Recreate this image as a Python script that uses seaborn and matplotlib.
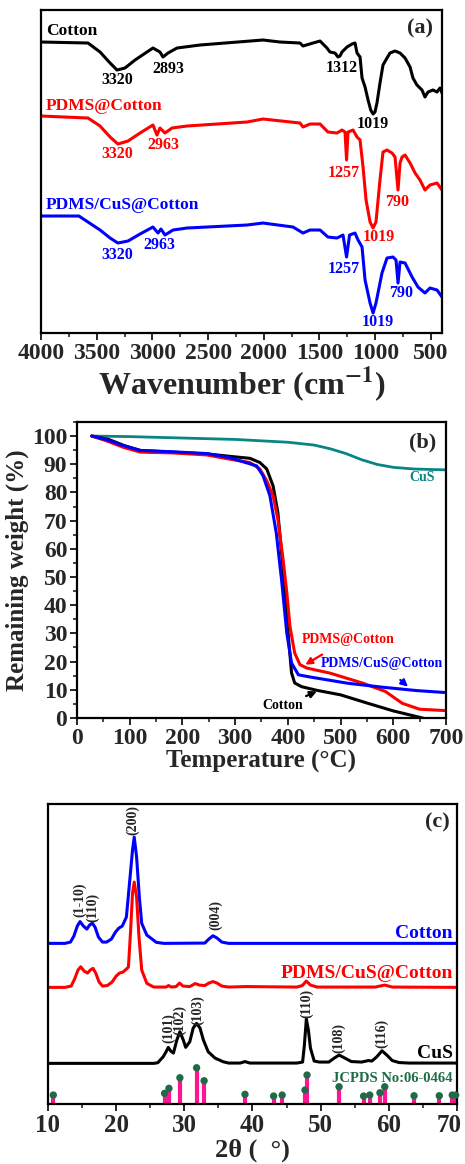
import matplotlib
matplotlib.use("Agg")
import matplotlib.pyplot as plt
from matplotlib.ticker import MultipleLocator
from matplotlib.transforms import ScaledTranslation
import seaborn as sns

sns.set_theme(style="ticks")
plt.rcParams["font.family"] = ["Liberation Serif", "DejaVu Serif"]
plt.rcParams["font.weight"] = "bold"
plt.rcParams["mathtext.fontset"] = "stix"
plt.rcParams["mathtext.default"] = "bf"
plt.rcParams["axes.linewidth"] = 1.6
plt.rcParams["xtick.direction"] = "out"
plt.rcParams["ytick.direction"] = "out"

# ---------------- FTIR spectra (transmittance, offset, a.u.) ----------------
wn_cotton = [4000, 3578, 3470, 3380, 3318, 3246, 3156, 2995, 2932, 2905, 2860, 2779,
             2573, 2007, 1855, 1675, 1648, 1558, 1495, 1433, 1406, 1361, 1334, 1316,
             1298, 1253, 1208, 1181, 1163, 1136, 1118, 1091, 1064, 1040, 1019, 1002,
             984, 957, 930, 894, 867, 822, 777, 732, 687, 661, 625, 580, 553, 526,
             481, 445, 418, 400]
t_cotton = [291, 290, 281, 270, 263, 265, 273, 285, 281, 276, 280, 285,
            288, 293, 291, 290, 287, 290, 292, 285, 281, 280, 276, 277,
            281, 286, 289, 290, 280, 276, 255, 246, 233, 223, 219, 221,
            230, 250, 268, 275, 280, 282, 280, 275, 266, 255, 248, 243, 236, 241,
            243, 241, 245, 240]

wn_pdms = [4000, 3578, 3470, 3380, 3310, 3219, 3111, 2995, 2959, 2932, 2887, 2824,
           2689, 2151, 2007, 1675, 1648, 1585, 1495, 1424, 1343, 1298, 1271, 1257,
           1244, 1199, 1163, 1136, 1109, 1082, 1046, 1019, 993, 957, 930, 894, 849,
           822, 795, 777, 759, 732, 687, 642, 598, 553, 508, 445, 400]
t_pdms = [217, 215, 207, 196, 189, 192, 200, 208, 198, 205, 200, 205,
          207, 211, 214, 210, 206, 209, 209, 201, 200, 203, 201, 173,
          201, 203, 196, 193, 166, 133, 111, 105, 111, 153, 181, 183, 180,
          176, 143, 170, 176, 178, 170, 160, 153, 143, 148, 150, 143]

wn_cus = [4000, 3660, 3470, 3380, 3310, 3219, 3111, 2995, 2950, 2923, 2887, 2815,
          2689, 2151, 2007, 1738, 1648, 1585, 1495, 1424, 1343, 1289, 1257, 1230,
          1181, 1154, 1118, 1091, 1046, 1019, 993, 939, 894, 840, 813, 795, 777,
          732, 669, 616, 553, 508, 445, 400]
t_cus = [117, 117, 103, 95, 90, 92, 99, 106, 100, 104, 98, 103,
         105, 108, 110, 106, 100, 103, 103, 96, 95, 98, 76, 98,
         100, 93, 86, 53, 30, 20, 30, 60, 75, 76, 73, 50, 71,
         70, 56, 46, 40, 45, 43, 36]

ftir_peaks = [  # (text, wavenumber, y, colour)
    ("3320", 3318, 253, "black"), ("2893", 2860, 264, "black"),
    ("1312", 1300, 265, "black"), ("1019", 1019, 209, "black"),
    ("3320", 3318, 179, "red"), ("2963", 2900, 188, "red"),
    ("1257", 1280, 160, "red"), ("1019", 970, 96, "red"), ("790", 800, 131, "red"),
    ("3320", 3318, 78, "blue"), ("2963", 2940, 88, "blue"),
    ("1257", 1280, 64, "blue"), ("1019", 980, 11, "blue"), ("790", 770, 40, "blue"),
]

# ---------------- TGA curves ----------------
temp_cotton = [28, 60, 90, 120, 180, 250, 290, 328, 347, 360, 372, 381, 391, 401,
               407, 413, 426, 455, 500, 550, 600, 655, 665]
w_cotton = [100, 98.8, 96.6, 94.9, 94.3, 93.6, 92.8, 92.1, 90.6, 88.3, 82.3, 73.0,
            52.7, 28.9, 16.0, 12.4, 11.1, 9.8, 8.2, 5.3, 2.5, 0.0, -0.6]

temp_pdms = [28, 56, 88, 120, 183, 246, 290, 328, 347, 360, 372, 381, 391, 398,
             404, 413, 423, 436, 480, 543, 585, 617, 650, 700]
w_pdms = [100, 98.3, 96.0, 94.3, 94.0, 93.3, 91.8, 90.6, 88.3, 84.1, 78.8, 70.5,
          56.2, 44.5, 32.5, 23.0, 18.9, 17.7, 15.9, 12.3, 9.4, 5.2, 3.1, 2.6]

temp_pcc = [28, 56, 88, 120, 183, 246, 290, 341, 353, 366, 378, 388, 398, 407,
            420, 443, 514, 580, 645, 700]
w_pcc = [100, 98.7, 96.6, 94.9, 94.4, 93.8, 92.3, 89.4, 85.9, 78.8, 65.7, 49.1,
         30.1, 19.5, 15.3, 14.5, 12.3, 10.9, 9.7, 9.0]

temp_cus = [28, 100, 200, 300, 400, 450, 480, 510, 540, 570, 600, 640, 700]
w_cus = [100, 99.8, 99.3, 98.8, 97.8, 96.8, 95.5, 93.8, 91.6, 89.9, 88.9, 88.3, 88.0]

# ---------------- XRD patterns (offset, a.u.) ----------------
tt_cotton = [10, 12.5, 13.3, 13.8, 14.3, 14.7, 15.2, 15.7, 16.1, 16.5, 16.9, 17.4,
             18.0, 18.6, 19.3, 19.9, 20.4, 20.9, 21.5, 22.0, 22.4, 22.65, 23.0,
             23.4, 23.75, 24.5, 25.9, 27.0, 33.0, 33.6, 34.2, 34.8, 35.5, 36.5, 70]
i_cotton = [160.7, 160.7, 162, 168, 178, 182.5, 178, 175, 179, 181, 177, 167,
            162, 162, 165, 172, 176, 178, 187, 224, 254, 267, 247,
            207, 180.7, 169, 161.7, 160.7, 161, 165, 168.3, 166, 162, 160.7, 160.7]

tt_pcc = [10, 12.5, 13.4, 13.9, 14.4, 14.8, 15.3, 15.8, 16.2, 16.6, 17.0, 17.5,
          18.0, 18.7, 19.4, 20.0, 20.5, 21.0, 21.5, 21.8, 22.1, 22.4, 22.65, 23.0,
          23.35, 23.75, 24.5, 25.5, 27.3, 27.7, 28.1, 28.8, 29.3, 29.8, 30.8, 31.6,
          32.2, 33.0, 33.6, 34.2, 34.8, 35.5, 36.5, 39.0, 46.5, 47.3, 47.9, 48.5,
          49.5, 58.0, 59.4, 60.5, 70]
i_pcc = [116.7, 116.7, 118, 125, 134, 137.3, 133, 131, 134, 135.7, 131, 122,
         118, 118.5, 122, 128, 131, 132, 135, 137, 171, 211, 222, 207,
         167, 134, 120.7, 117, 117, 118.5, 117, 117.5, 121, 118, 117.5, 120.5,
         119, 118.5, 121, 122.5, 121, 118, 117, 117.5, 117, 118.5, 123, 119,
         117, 117, 119, 117, 116.7]

tt_cus = [10, 25.5, 26.1, 26.9, 27.3, 27.65, 28.0, 28.4, 28.9, 29.35, 29.85, 30.2,
          30.8, 31.3, 31.8, 32.3, 32.8, 33.5, 34.5, 35.7, 36.5, 38.2, 38.9, 39.6,
          46.5, 47.35, 47.6, 47.9, 48.2, 48.5, 49.05, 49.8, 51.2, 52.0, 52.7, 53.4,
          54.5, 56.0, 57.0, 57.5, 58.2, 59.0, 59.7, 60.5, 61.5, 63, 70]
i_cus = [40.7, 40.7, 41.3, 47.3, 52, 56.7, 53, 51, 64, 72.3, 64, 56.7,
         62.3, 76, 80.7, 76, 64, 52.3, 46, 42.3, 41, 41, 42.5, 41,
         41, 42, 58, 85, 74, 56, 43, 42, 42, 46, 49, 46.5,
         42.5, 42, 43.5, 43, 47, 53.3, 49, 43.5, 41.5, 41, 41]

jcpds_pos = [10.78, 27.1, 27.74, 29.35, 31.8, 32.9, 38.9, 43.1, 44.35, 47.7, 48.0,
             52.7, 56.3, 57.2, 58.7, 59.4, 63.7, 67.4, 69.3, 69.8]
jcpds_int = [9, 10.7, 15.7, 26.3, 36.3, 23.3, 9.7, 8, 9, 14, 29,
             17.3, 8, 9, 11.3, 17.3, 8.3, 8.3, 9, 9]

xrd_peaks = [  # (text, 2theta, y)
    ("(1-10)", 14.6, 204), ("(110)", 16.6, 197), ("(200)", 22.4, 284),
    ("(004)", 34.6, 189), ("(101)", 27.65, 76), ("(102)", 29.35, 84),
    ("(103)", 31.9, 94), ("(110)", 48.0, 101), ("(108)", 52.7, 66),
    ("(116)", 59.0, 71),
]
xrd_ticks = [10, 20, 30, 40, 50, 60, 70]

fig = plt.figure(figsize=(4.65, 11.64), dpi=100)
fig.patch.set_facecolor("white")

# ===================== (a) FTIR =====================
ax1 = fig.add_axes([0.0882, 0.7139, 0.8624, 0.2775])
lw = 2.2
sns.lineplot(x=wn_cotton, y=t_cotton, color="black", lw=lw, ax=ax1)
sns.lineplot(x=wn_pdms, y=t_pdms, color="#FF0000", lw=lw, ax=ax1)
sns.lineplot(x=wn_cus, y=t_cus, color="#0000FF", lw=lw, ax=ax1)
ax1.set_xlim(4000, 400)
ax1.set_ylim(0, 323)
ax1.xaxis.set_major_locator(MultipleLocator(500))
ax1.xaxis.set_minor_locator(MultipleLocator(250))
ax1.set_yticks([])
ax1.tick_params(axis="x", which="major", length=5, width=1.4, labelsize=17, pad=2)
ax1.tick_params(axis="x", which="minor", length=3, width=1.2)
ax1.set_xlabel("Wavenumber (cm$^{-1}$)", fontsize=23, fontweight="bold", labelpad=0)
ax1.set_ylabel("")
for txt, x, y, c in ftir_peaks:
    ax1.text(x, y, txt, color=c, fontsize=11.5, fontweight="bold", ha="center", va="center")
ax1.text(0.012, 0.935, "Cotton", color="black", fontsize=12.5, fontweight="bold",
         transform=ax1.transAxes, va="center")
ax1.text(0.012, 0.703, "PDMS@Cotton", color="#FF0000", fontsize=12.5, fontweight="bold",
         transform=ax1.transAxes, va="center")
ax1.text(0.012, 0.396, "PDMS/CuS@Cotton", color="#0000FF", fontsize=12.5, fontweight="bold",
         transform=ax1.transAxes, va="center")
ax1.text(0.945, 0.944, "(a)", fontsize=16, fontweight="bold", transform=ax1.transAxes,
         ha="center", va="center")

# ===================== (b) TGA =====================
ax2 = fig.add_axes([0.1656, 0.3832, 0.7935, 0.2543])
sns.lineplot(x=temp_cus, y=w_cus, color="#0A8585", lw=2.0, ax=ax2)
sns.lineplot(x=temp_cotton, y=w_cotton, color="black", lw=2.2, ax=ax2)
sns.lineplot(x=temp_pdms, y=w_pdms, color="#FF0000", lw=2.2, ax=ax2)
sns.lineplot(x=temp_pcc, y=w_pcc, color="#0000FF", lw=2.2, ax=ax2)
ax2.set_xlim(0, 700)
ax2.set_ylim(0, 105)
ax2.xaxis.set_major_locator(MultipleLocator(100))
ax2.xaxis.set_minor_locator(MultipleLocator(50))
ax2.yaxis.set_major_locator(MultipleLocator(10))
ax2.yaxis.set_minor_locator(MultipleLocator(5))
ax2.tick_params(which="major", length=5, width=1.4, labelsize=17, pad=2)
ax2.tick_params(which="minor", length=3, width=1.2)
ax2.set_xlabel("Temperature (\u00b0C)", fontsize=18, fontweight="bold", labelpad=1)
ax2.set_ylabel("Remaining weight (%)", fontsize=18, fontweight="bold", labelpad=2)
ax2.text(655, 85.4, "CuS", color="#0A8585", fontsize=10, fontweight="bold", ha="center", va="center")
ax2.text(0.938, 0.932, "(b)", fontsize=16, fontweight="bold", transform=ax2.transAxes,
         ha="center", va="center")
ax2.annotate("PDMS@Cotton", xy=(433, 18.9), xytext=(514, 28), color="#FF0000",
             fontsize=10, fontweight="bold", ha="center", va="center",
             arrowprops=dict(arrowstyle="-|>", color="#FF0000", lw=1.6,
                             shrinkA=8, shrinkB=0, mutation_scale=10))
ax2.annotate("PDMS/CuS@Cotton", xy=(628, 11.1), xytext=(578, 19.2), color="#0000FF",
             fontsize=10, fontweight="bold", ha="center", va="center",
             arrowprops=dict(arrowstyle="-|>", color="#0000FF", lw=1.6,
                             shrinkA=7, shrinkB=0, mutation_scale=10))
ax2.annotate("Cotton", xy=(455, 9.4), xytext=(391, 4.3), color="black",
             fontsize=10, fontweight="bold", ha="center", va="center",
             arrowprops=dict(arrowstyle="-|>", color="black", lw=1.6,
                             shrinkA=18, shrinkB=0, mutation_scale=10))

# ===================== (c) XRD =====================
ax3 = fig.add_axes([0.1032, 0.0515, 0.8796, 0.2577])
sns.lineplot(x=tt_cotton, y=i_cotton, color="#0000FF", lw=2.2, ax=ax3)
sns.lineplot(x=tt_pcc, y=i_pcc, color="#FF0000", lw=2.2, ax=ax3)
sns.lineplot(x=tt_cus, y=i_cus, color="black", lw=2.2, ax=ax3)
ax3.vlines(jcpds_pos, 0, jcpds_int, color="#FF1493", lw=3)
sns.scatterplot(x=jcpds_pos, y=jcpds_int, color="#1F6B45", s=28, edgecolor="none",
                ax=ax3, zorder=5, clip_on=False)
ax3.set_xlim(10, 70)
ax3.set_ylim(0, 300)
ax3.set_xticks(xrd_ticks)
ax3.set_xticklabels([str(t) for t in xrd_ticks])
ax3.xaxis.set_minor_locator(MultipleLocator(5))
ax3.set_yticks([])
ax3.tick_params(axis="x", which="major", length=5, width=1.4, labelsize=18, pad=2)
ax3.tick_params(axis="x", which="minor", length=3, width=1.2)
# keep the last tick label inside the figure edge
last = ax3.get_xticklabels()[-1]
last.set_horizontalalignment("right")
last.set_transform(last.get_transform() + ScaledTranslation(0.05, 0, fig.dpi_scale_trans))
ax3.set_xlabel("2\u03b8 (  \u00b0)", fontsize=19, fontweight="bold", labelpad=1)
ax3.set_ylabel("")
for txt, x, y in xrd_peaks:
    ax3.text(x, y, txt, fontsize=10, fontweight="bold", rotation=90, ha="center", va="center")
ax3.text(69.4, 171, "Cotton", color="#0000FF", fontsize=14, fontweight="bold", ha="right", va="center")
ax3.text(69.4, 131, "PDMS/CuS@Cotton", color="#FF0000", fontsize=14, fontweight="bold",
         ha="right", va="center")
ax3.text(69.4, 51, "CuS", color="black", fontsize=14, fontweight="bold", ha="right", va="center")
ax3.text(69.4, 26, "JCPDS No:06-0464", color="#1F6B45", fontsize=10.5, fontweight="bold",
         ha="right", va="center")
ax3.text(0.951, 0.94, "(c)", fontsize=16, fontweight="bold", transform=ax3.transAxes,
         ha="center", va="center")

for ax in (ax1, ax2, ax3):
    for s in ax.spines.values():
        s.set_color("black")
        s.set_linewidth(1.6)

fig.savefig("out.png", dpi=100, facecolor="white")
